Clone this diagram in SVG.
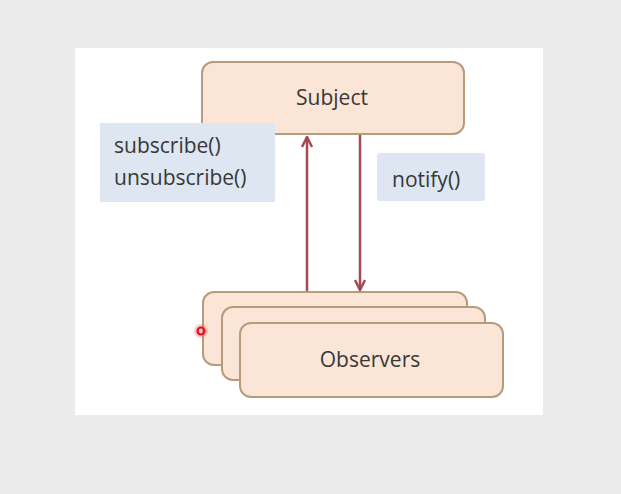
<svg xmlns="http://www.w3.org/2000/svg" width="621" height="494" viewBox="0 0 621 494">
<style>
.box{fill:#fbe5d6;stroke:#b89a7c;stroke-width:2}
.lbl{fill:#dde6f1}
.t{font-family:"Open Sans","Liberation Sans",sans-serif;font-size:21px;fill:#383838}
.c{stroke:#a24b4f;stroke-width:2.5;fill:none}
</style>
<defs>
<marker id="ah" viewBox="0 0 12 12" refX="11" refY="6" markerWidth="12" markerHeight="12" markerUnits="userSpaceOnUse" orient="auto">
<path d="M1,1 L11,6 L1,11" fill="none" stroke="#a24b4f" stroke-width="2.5"/>
</marker>
</defs>
<rect width="621" height="494" fill="#ebebeb"/>
<rect x="75" y="48" width="468" height="367" fill="#ffffff"/>
<g id="subject">
<rect class="box" x="202" y="62" width="262" height="72" rx="11"/>
<text class="t" x="332" y="105" text-anchor="middle">Subject</text>
</g>
<g id="subscribe-label">
<rect class="lbl" x="100" y="123" width="175" height="79"/>
<text class="t" x="114" y="153">subscribe()</text>
<text class="t" x="114" y="185">unsubscribe()</text>
</g>
<g id="notify-label">
<rect class="lbl" x="377" y="153" width="108" height="48" rx="3"/>
<text class="t" x="392" y="187">notify()</text>
</g>
<g id="connectors">
<line class="c" x1="307" y1="291" x2="307" y2="137" marker-end="url(#ah)"/>
<line class="c" x1="360" y1="135" x2="360" y2="290" marker-end="url(#ah)"/>
</g>
<g id="observers">
<rect class="box" x="203" y="292" width="264" height="73" rx="11"/>
<rect class="box" x="222" y="307" width="263" height="73" rx="11"/>
<rect class="box" x="240" y="323" width="263" height="74" rx="11"/>
<text class="t" x="370" y="367" text-anchor="middle">Observers</text>
</g>
<g id="pointer">
<circle cx="201" cy="331" r="7" fill="#ff6060" opacity="0.35"/>
<circle cx="201" cy="331" r="3.5" fill="none" stroke="#e01020" stroke-width="2.2"/>
</g>
</svg>
